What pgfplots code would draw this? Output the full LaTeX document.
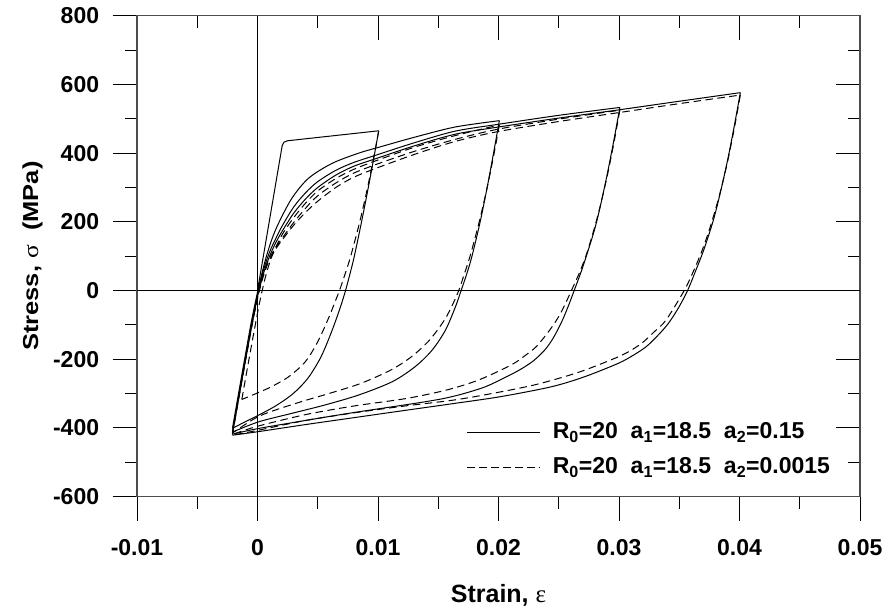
\documentclass[border=0pt]{standalone}
\usepackage{fontspec}
\setmainfont{Liberation Sans}
\newfontfamily\symfont{Liberation Serif}
\usepackage{pgfplots}
\pgfplotsset{compat=1.18}
\begin{document}
\begin{tikzpicture}
\pgfplotsset{
  common/.style={
    scale only axis, width=723pt, height=481pt,
    xmin=-0.01, xmax=0.05, ymin=-600, ymax=800,
    xtick={-0.01,0,0.01,0.02,0.03,0.04,0.05},
    ytick={-600,-400,-200,0,200,400,600,800},
    minor x tick num=1, minor y tick num=1,
    major tick length=24pt, minor tick length=12pt,
    every tick/.style={black, line width=1pt},
    axis line style={black!70, line width=1.6pt},
    scaled x ticks=false, scaled y ticks=false,
  },
  sol/.style={black, line width=1pt, smooth, tension=0.5},
  das/.style={black, line width=1pt, dash pattern=on 7.5pt off 4.5pt, smooth, tension=0.5},
}
% top / right ticks (inside)
\begin{axis}[common, xtick pos=top, ytick pos=right, tick align=inside,
  xticklabels={}, yticklabels={}]
\end{axis}
\begin{axis}[common, xtick pos=bottom, ytick pos=left, tick align=outside,
  xticklabels={-0.01,0,0.01,0.02,0.03,0.04,0.05},
  yticklabels={-600,-400,-200,0,200,400,600,800},
  tick label style={font=\fontsize{23}{27}\selectfont\bfseries, inner sep=0pt},
  xticklabel style={anchor=north, yshift=-18.3pt},
  yticklabel style={anchor=east, xshift=-13.7pt},
  xlabel={\bfseries Strain, {\symfont\mdseries ε}},
  ylabel={\bfseries Stress, {\symfont\mdseries σ}\ \ (MPa)},
  xlabel style={font=\fontsize{25}{29}\selectfont, at={(axis description cs:0.5,-0.221)}, anchor=base},
  ylabel style={font=\fontsize{25.5}{30}\selectfont, at={(axis description cs:-0.1369,0.5)}, anchor=base, yscale=0.85},
  legend style={draw=none, fill=none, at={(axis description cs:0.456,0.157)}, anchor=north west,
    inner sep=0pt, column sep=12.4pt, row sep=13.5pt,
    nodes={inner sep=0pt, text height=17pt, text depth=5pt, font=\fontsize{23}{27}\selectfont\bfseries}},
  legend cell align=left,
  legend image code/.code={\draw[#1, smooth=false] (0pt,0pt) -- (72.6pt,0pt);},
]
\draw[black, line width=1pt] (axis cs:0,-600) -- (axis cs:0,800);
\draw[black, line width=1pt] (axis cs:-0.01,0) -- (axis cs:0.05,0);
\coordinate (sw) at (rel axis cs:0,0);
\coordinate (ne) at (rel axis cs:1,1);

% first loading
\addplot[black, line width=1pt] coordinates {(0,0) (0.00205,422) (0.0022,432) (0.0025,436) (0.01006,465)};
\addlegendentry{R\textsubscript{0}=20\ \ a\textsubscript{1}=18.5\ \ a\textsubscript{2}=0.15}
% dashed: first unloading
\addplot[das] coordinates {(0.01006,465) (0.009715,400) (0.009135,300) (0.008485,200) (0.007735,100) (0.007285,50) (0.0068,0) (0.006355,-40) (0.0059,-80) (0.004985,-150) (0.00397,-207) (0.00258,-251) (0.00091,-284) (-0.0013,-317)};
\addlegendentry{R\textsubscript{0}=20\ \ a\textsubscript{1}=18.5\ \ a\textsubscript{2}=0.0015}

% solid branches
\addplot[sol, forget plot] coordinates {(0.01006,465) (0.009725,400) (0.009195,300) (0.008635,200) (0.008035,100) (0.007685,50) (0.007305,0) (0.00689,-47) (0.0062,-115) (0.00527,-193) (0.004165,-256) (0.002955,-300) (0.00154,-335) (0.000125,-362) (-0.00108,-383) (-0.00208,-401)};
\addplot[sol, forget plot] coordinates {(-0.00208,-401) (-0.0015,-285) (-0.001,-186) (-0.0005,-89) (0,-5) (0.0003,40) (0.0007,95) (0.0012,150) (0.00175,196) (0.00286,269) (0.00424,327) (0.00618,370) (0.0084,400) (0.01006,417) (0.013,446) (0.0164,476) (0.02007,494.5)};
\addplot[sol, forget plot] coordinates {(0.02007,494.5) (0.019588,400) (0.019058,300) (0.018478,200) (0.017798,100) (0.017378,50) (0.016898,0) (0.01643,-47) (0.0156,-115) (0.0145,-173) (0.0131,-221) (0.0112,-265) (0.0084,-304) (0.0056,-333) (0.0029,-357) (0.0001,-382) (-0.00208,-412)};
\addplot[sol, forget plot] coordinates {(-0.00208,-412) (-0.0015,-296) (-0.001,-198) (-0.0005,-102) (0,-12) (0.0005,60) (0.001,112) (0.0015,150) (0.002,185) (0.003,243) (0.004,285) (0.005,317) (0.0065,350) (0.008,373) (0.01,396) (0.013,430) (0.0164,464) (0.02,484) (0.025,510) (0.03007,533)};
\addplot[sol, forget plot] coordinates {(0.03007,533) (0.02955,433) (0.02899,333) (0.02837,233) (0.02795,175) (0.02745,118) (0.02691,60) (0.02628,0) (0.02574,-50) (0.02519,-95) (0.02451,-140) (0.02384,-173) (0.02288,-205) (0.02175,-231) (0.02043,-255) (0.01891,-280) (0.01711,-300) (0.01533,-315) (0.01276,-330) (0.008,-355) (0.004,-378) (0,-402) (-0.00208,-418)};
\addplot[sol, forget plot] coordinates {(-0.00208,-418) (-0.0015,-302) (-0.001,-204) (-0.0005,-108) (0,-18) (0.0005,50) (0.001,100) (0.0015,138) (0.002,170) (0.003,225) (0.004,267) (0.005,300) (0.0065,336) (0.008,362) (0.01,386) (0.013,421) (0.0164,455) (0.02,476) (0.025,502) (0.03,526) (0.035,551) (0.04007,576)};
\addplot[sol, forget plot] coordinates {(0.04007,576) (0.03955,476) (0.03899,376) (0.03835,276) (0.03779,200) (0.03703,118) (0.03639,60) (0.03569,0) (0.03494,-50) (0.03411,-95) (0.03324,-130) (0.03227,-163) (0.0312,-188) (0.02993,-212) (0.02713,-251) (0.02439,-280) (0.02014,-309) (0.01604,-330) (0.012,-350) (0.008,-370) (0.004,-390) (0,-411) (-0.00208,-421)};

% dashed branches
\addplot[das, forget plot] coordinates {(-0.0013,-317) (-0.0008,-218) (-0.0003,-122) (0,-66) (0.0003,-14) (0.0007,45) (0.0012,100) (0.002,160) (0.003,212) (0.004,255) (0.005,290) (0.0065,326) (0.008,353) (0.01,380) (0.013,417) (0.0164,451) (0.02007,482)};
\addplot[das, forget plot] coordinates {(0.02007,482) (0.01964,400) (0.01906,300) (0.0184,200) (0.01764,100) (0.01718,50) (0.0167,0) (0.0162,-40) (0.01551,-86) (0.01428,-144) (0.0128,-192) (0.01108,-231) (0.00859,-270) (0.006,-299) (0.0034,-326) (0.00018,-365) (-0.00208,-415)};
\addplot[das, forget plot] coordinates {(-0.00208,-415) (-0.0015,-299) (-0.001,-201) (-0.0005,-105) (0,-20) (0.0004,38) (0.0009,88) (0.0015,125) (0.002,150) (0.003,198) (0.004,240) (0.005,276) (0.0065,313) (0.008,342) (0.01,369) (0.013,405) (0.0164,440) (0.02,470) (0.025,499) (0.03007,525)};
\addplot[das, forget plot] coordinates {(0.03007,525) (0.02955,425) (0.02897,325) (0.02829,225) (0.027695,150) (0.027245,100) (0.026695,50) (0.02605,0) (0.025525,-40) (0.024925,-80) (0.024145,-120) (0.02314,-163) (0.022175,-190) (0.02103,-217) (0.018375,-260) (0.01575,-289) (0.012375,-314) (0.008,-336) (0.004,-361) (0,-395) (-0.00208,-419)};
\addplot[das, forget plot] coordinates {(-0.00208,-419) (-0.0015,-303) (-0.001,-205) (-0.0005,-109) (0,-24) (0.0004,32) (0.0009,82) (0.0015,120) (0.002,145) (0.003,190) (0.004,228) (0.005,260) (0.0065,300) (0.008,330) (0.01,358) (0.013,396) (0.0164,434) (0.02,463) (0.025,492) (0.03,518) (0.035,544) (0.04007,569)};
\addplot[das, forget plot] coordinates {(0.04007,569) (0.03955,469) (0.03897,369) (0.03827,269) (0.037525,180) (0.03692,119) (0.036225,60) (0.03541,0) (0.0339,-86) (0.032925,-120) (0.0319,-153) (0.0307,-180) (0.02932,-202) (0.02655,-239) (0.02294,-275) (0.01879,-304) (0.01602,-320) (0.012,-337) (0.008,-356) (0.004,-378) (0,-407) (-0.00208,-421)};
\end{axis}
\pgfresetboundingbox
\path ([shift={(-137pt,-114.3pt)}]sw) rectangle ([shift={(26pt,15.7pt)}]ne);
\end{tikzpicture}
\end{document}
